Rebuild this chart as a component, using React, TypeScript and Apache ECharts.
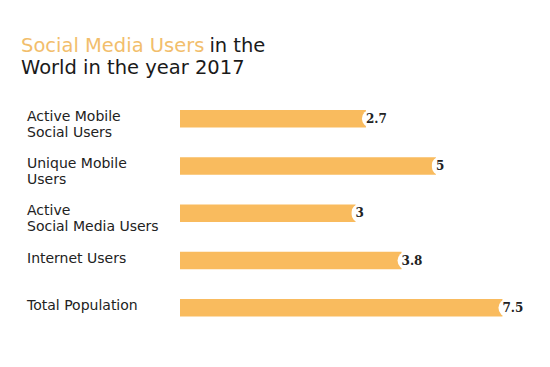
import React, { useEffect, useRef } from "react";
import * as echarts from "echarts";

const categories = [
  "Active Mobile\nSocial Users",
  "Unique Mobile\nUsers",
  "Active\nSocial Media Users",
  "Internet Users",
  "Total Population",
];
// values printed at the end of each bar (billions)
const valueLabels = [2.7, 5, 3, 3.8, 7.5];
// bar lengths as drawn in the picture (axis units)
const barLengths = [4.33, 5.96, 4.09, 5.16, 7.51];

const ORANGE = "#F9BB5E";

export default function App() {
  const ref = useRef<HTMLDivElement>(null);
  useEffect(() => {
    document.body.style.margin = "0";
    if (!ref.current) return;
    const chart = echarts.init(ref.current, undefined, { renderer: "svg" });
    chart.setOption({
      animation: false,
      backgroundColor: "#ffffff",
      title: {
        left: 21,
        top: 34,
        padding: 0,
        text: "{o|Social Media Users} {k|in the}\n{k|World in the year 2017}",
        textStyle: {
          rich: {
            o: { color: "#F2BE6C", fontSize: 19.5, fontWeight: "normal", fontFamily: "DejaVu Sans", lineHeight: 22 },
            k: { color: "#1a1a1a", fontSize: 19.5, fontWeight: "normal", fontFamily: "DejaVu Sans", lineHeight: 22 },
          },
        },
      },
      grid: [
        { left: 180, right: 26.5, top: 95, bottom: 35.5, containLabel: false },
        { left: 180, right: 26.5, top: 84, bottom: 46.5, containLabel: false },
      ],
      xAxis: [
        { type: "value", min: 0, max: 8, show: false, gridIndex: 0 },
        { type: "value", min: 0, max: 8, show: false, gridIndex: 1 },
      ],
      yAxis: [
        {
          type: "category",
          gridIndex: 0,
          inverse: true,
          data: categories,
          axisLine: { show: false },
          axisTick: { show: false },
          axisLabel: { show: false },
        },
        {
          type: "category",
          gridIndex: 1,
          inverse: true,
          data: categories,
          axisLine: { show: false },
          axisTick: { show: false },
          axisLabel: {
            align: "left",
            verticalAlign: "top",
            margin: 153,
            color: "#222222",
            fontSize: 14,
            lineHeight: 16,
            fontFamily: "DejaVu Sans",
          },
        },
      ],
      series: [
        {
          type: "bar",
          xAxisIndex: 0,
          yAxisIndex: 0,
          data: barLengths,
          barWidth: 17.5,
          itemStyle: { color: ORANGE },
          label: {
            show: true,
            position: "right",
            distance: -4,
            formatter: (p: any) => String(valueLabels[p.dataIndex]),
            color: "#222222",
            fontFamily: "DejaVu Serif",
            fontWeight: "bold",
            fontSize: 12,
            backgroundColor: "#ffffff",
            padding: [3, 3, 3, 4],
            borderRadius: 10,
          },
        },
      ],
    });
    return () => chart.dispose();
  }, []);
  return <div ref={ref} style={{ width: 550, height: 367 }} />;
}
